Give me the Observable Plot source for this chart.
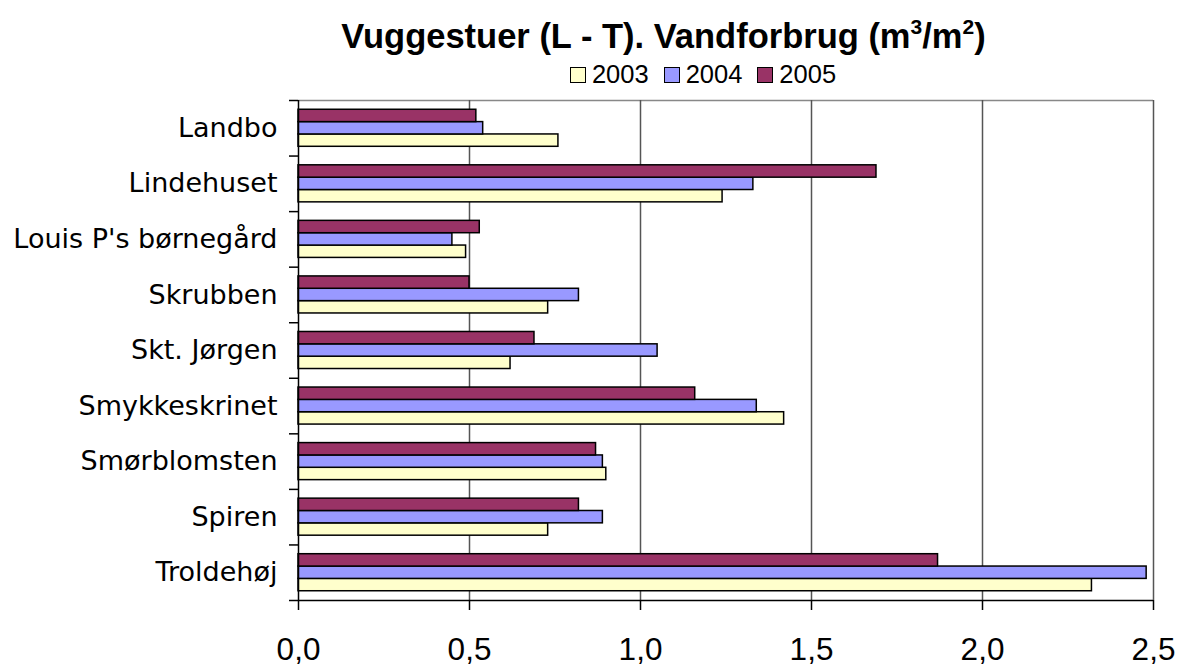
<!DOCTYPE html>
<html>
<head>
<meta charset="utf-8">
<script src="https://cdn.jsdelivr.net/npm/d3@7"></script>
<script src="https://cdn.jsdelivr.net/npm/@observablehq/plot@0.6"></script>
<style>
  html, body { margin: 0; padding: 0; background: #fff; }
  #wrap { position: relative; width: 1181px; height: 666px; overflow: hidden; }
  #title { position: absolute; left: 0; width: 1327px; top: 19px; text-align: center; line-height: 1; white-space: nowrap;
    font-family: "Liberation Sans", Arial, sans-serif; font-weight: bold; font-size: 34.5px; color: #000; }
  #title sup { font-size: 21px; vertical-align: 14px; line-height: 0; }
  #legend { position: absolute; left: 0; width: 1406px; top: 62px; display: flex; justify-content: center; line-height: 1;
    font-family: "Liberation Sans", Arial, sans-serif; font-size: 25.5px; color: #000; }
  .item { display: flex; align-items: center; margin-right: 15px; }
  .item:last-child { margin-right: 0; }
  .sw { width: 14px; height: 14px; border: 1px solid #000; margin-right: 6px; }
  #chart { position: absolute; left: 0; top: 0; }
</style>
</head>
<body>
<div id="wrap">
  <div id="chart"></div>
  <div id="title">Vuggestuer (L - T). Vandforbrug (m<sup>3</sup>/m<sup>2</sup>)</div>
  <div id="legend"></div>
</div>
<script>
const categories = ["Landbo", "Lindehuset", "Louis P's børnegård", "Skrubben", "Skt. Jørgen", "Smykkeskrinet", "Smørblomsten", "Spiren", "Troldehøj"];
const years = ["2003", "2004", "2005"];
const v2003 = [0.76, 1.24, 0.49, 0.73, 0.62, 1.42, 0.90, 0.73, 2.32];
const v2004 = [0.54, 1.33, 0.45, 0.82, 1.05, 1.34, 0.89, 0.89, 2.48];
const v2005 = [0.52, 1.69, 0.53, 0.50, 0.69, 1.16, 0.87, 0.82, 1.87];
const xTicks = [0, 0.5, 1.0, 1.5, 2.0, 2.5];
const colors = ["#FFFFCC", "#9999FF", "#993366"];

const series = [v2003, v2004, v2005];
// band layout: 3 bars per category, gap width 150%
const gap = 1 / 6, bw = 2 / 9;
const rows = [];
categories.forEach((c, i) => {
  years.forEach((yr, k) => {
    const slot = 2 - k; // 2005 on top
    rows.push({category: c, year: yr, value: series[k][i], y1: i + gap + slot * bw, y2: i + gap + (slot + 1) * bw});
  });
});

const chart = Plot.plot({
  width: 1181,
  height: 666,
  marginLeft: 298,
  marginRight: 28,
  marginTop: 100,
  marginBottom: 66,
  style: {background: "transparent"},
  x: {domain: [0, 2.5], axis: null},
  y: {domain: [categories.length, 0], axis: null},
  color: {domain: years, range: colors},
  marks: [
    Plot.ruleY([0], {stroke: "#888", strokeWidth: 1.5}),
    Plot.ruleX(xTicks.slice(1), {stroke: "#555", strokeWidth: 1.5}),
    Plot.rectX(rows, {x: "value", y1: "y1", y2: "y2", fill: "year", stroke: "#000", strokeWidth: 1.5}),
    Plot.ruleX([0], {stroke: "#000", strokeWidth: 1.5}),
    Plot.ruleY([categories.length], {stroke: "#000", strokeWidth: 1.5}),
    Plot.axisY(d3.range(categories.length + 1), {tickSize: 9, tickFormat: () => "", stroke: "#000", strokeWidth: 1.5}),
    Plot.axisY(categories.map((_, i) => i + 0.5), {
      tickSize: 0, tickPadding: 21, tickFormat: d => categories[Math.floor(d)],
      fontSize: 27, fontFamily: "DejaVu Sans", fill: "#000", label: null
    }),
    Plot.axisX(xTicks, {
      tickSize: 10, tickPadding: 27, tickFormat: d => d.toFixed(1).replace(".", ","),
      fontSize: 31.5, fontFamily: "Liberation Sans", fill: "#000", stroke: "#000", strokeWidth: 1.5, label: null
    })
  ]
});
document.getElementById("chart").appendChild(chart);

const legend = document.getElementById("legend");
years.forEach((yr, k) => {
  const it = document.createElement("div");
  it.className = "item";
  const sw = document.createElement("div");
  sw.className = "sw";
  sw.style.background = colors[k];
  it.appendChild(sw);
  const t = document.createElement("span");
  t.textContent = yr;
  it.appendChild(t);
  legend.appendChild(it);
});
</script>
</body>
</html>
